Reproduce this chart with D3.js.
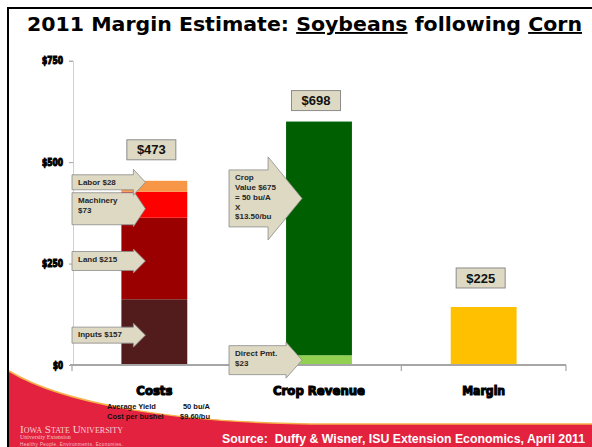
<!DOCTYPE html>
<html>
<head>
<meta charset="utf-8">
<style>
body { margin: 0; background: #fff; }
svg { display: block; }
.callout text { font: bold 8px "Liberation Sans", Arial, sans-serif; fill: #262626; }
.total text { font: bold 13px "Liberation Sans", Arial, sans-serif; fill: #111; }
</style>
</head>
<body>
<svg width="592" height="447"></svg>
<script src="https://d3js.org/d3.v7.min.js"></script>
<script>
// values (in axis units), labels as printed on the slide
var categories = ["Costs", "Crop Revenue", "Margin"];
var costParts = ["Inputs", "Land", "Machinery", "Labor"];
var costValues = [162, 201, 64, 27];
var revenueParts = ["Direct Pmt.", "Crop Value"];
var revenueValues = [24, 576];
var marginValues = [143];
var totalLabels = ["$473", "$698", "$225"];
var yTicks = [0, 250, 500, 750];
var costCallouts = [["Inputs $157"], ["Land $215"], ["Machinery", "$73"], ["Labor $28"]];
var revenueCallouts = [["Direct Pmt.", "$23"], ["Crop", "Value $675", "= 50 bu/A", "X", "$13.50/bu"]];
var yieldRows = [["Average Yield", "50 bu/A"], ["Cost per bushel", "$9.60/bu"]];

var costColors = ["#521c1c", "#9b0000", "#ff0000", "#f79646"];
var revenueColors = ["#92d050", "#005f00"];
var marginColor = "#ffc000";

var svg = d3.select("svg");

// bottom red swoosh
svg.append("path")
    .attr("d", "M9,371 C60,402 170,424 330,424 L592,424 L592,447 L9,447 Z")
    .attr("fill", "#e3223f");
svg.append("path")
    .attr("d", "M9,371 C60,402 170,424 330,424 L592,424")
    .attr("fill", "none")
    .attr("stroke", "#f6b14a")
    .attr("stroke-width", 1.5);

// frame
svg.append("rect")
    .attr("x", 8).attr("y", 8)
    .attr("width", 620).attr("height", 480)
    .attr("fill", "none")
    .attr("stroke", "#000")
    .attr("stroke-width", 2);

// title
var title = svg.append("text")
    .attr("x", 27).attr("y", 31)
    .attr("font-family", "DejaVu Sans, sans-serif")
    .attr("font-weight", "bold")
    .attr("font-size", 19)
    .attr("textLength", 555)
    .attr("lengthAdjust", "spacingAndGlyphs");
title.append("tspan").text("2011 Margin Estimate: ");
title.append("tspan").style("text-decoration", "underline").text("Soybeans");
title.append("tspan").text(" following ");
title.append("tspan").style("text-decoration", "underline").text("Corn");

var x = d3.scaleBand()
    .domain(categories)
    .range([72, 566])
    .paddingInner(0.6)
    .paddingOuter(0.3);

var y = d3.scaleLinear()
    .domain([0, 750])
    .range([365, 60.7]);

// y axis
var yAxis = svg.append("g")
    .attr("transform", "translate(73,0)")
    .call(d3.axisLeft(y).tickValues(yTicks).tickSize(4).tickFormat(function(d) { return "$" + d; }));
yAxis.select(".domain").attr("stroke", "#d0d0d0");
yAxis.selectAll(".tick line").attr("stroke", "#a0a0a0");
yAxis.selectAll(".tick text")
    .attr("x", -10)
    .attr("font-family", "DejaVu Sans, sans-serif")
    .attr("font-weight", "bold")
    .attr("font-size", 10)
    .attr("fill", "#000")
    .attr("stroke", "#000")
    .attr("stroke-width", 1.2)
    .attr("textLength", function(d) { return d == 0 ? 10 : 21; })
    .attr("lengthAdjust", "spacingAndGlyphs");

// build segments
function stackUp(cat, keys, vals, colors) {
  var sums = d3.cumsum(vals);
  return keys.map(function(k, i) {
    return {cat: cat, key: k, y0: sums[i] - vals[i], y1: sums[i], color: colors[i], idx: i};
  });
}
var costSeg = stackUp("Costs", costParts, costValues, costColors);
var revSeg = stackUp("Crop Revenue", revenueParts, revenueValues, revenueColors);
var marSeg = stackUp("Margin", ["Margin"], marginValues, [marginColor]);
var segments = costSeg.concat(revSeg, marSeg);

svg.append("g").selectAll("rect")
  .data(segments)
  .enter().append("rect")
    .attr("x", function(d) { return x(d.cat); })
    .attr("y", function(d) { return y(d.y1); })
    .attr("width", x.bandwidth())
    .attr("height", function(d) { return y(d.y0) - y(d.y1); })
    .attr("fill", function(d) { return d.color; });

// x axis
var xAxis = svg.append("g")
    .attr("transform", "translate(0,365)");
xAxis.append("line")
    .attr("x1", 70).attr("x2", 566)
    .attr("stroke", "#a6a6a6").attr("stroke-width", 2);
var bounds = [72].concat(categories.map(function(c) { return x(c) + x.bandwidth() + x.step() * 0.3; }));
xAxis.selectAll(".tk")
  .data(bounds)
  .enter().append("line")
    .attr("x1", function(d) { return d; }).attr("x2", function(d) { return d; })
    .attr("y1", 0).attr("y2", 6)
    .attr("stroke", "#a6a6a6").attr("stroke-width", 1.2);

var catWidths = [36, 92, 43];
xAxis.selectAll(".cat")
  .data(categories)
  .enter().append("text")
    .attr("x", function(d, i) { return x(d) + x.bandwidth() / 2 - catWidths[i] / 2; })
    .attr("y", 30)
    .attr("font-family", "DejaVu Sans, sans-serif")
    .attr("font-weight", "bold")
    .attr("font-size", 13)
    .attr("stroke", "#000")
    .attr("stroke-width", 1.2)
    .attr("textLength", function(d, i) { return catWidths[i]; })
    .attr("lengthAdjust", "spacingAndGlyphs")
    .text(function(d) { return d; });

// total boxes
var tops = [d3.sum(costValues), d3.sum(revenueValues), d3.sum(marginValues)];
var gaps = [21, 11, 19];
var totals = svg.append("g").attr("class", "total").selectAll("g")
  .data(categories)
  .enter().append("g")
    .attr("transform", function(d, i) {
      return "translate(" + (x(d) + x.bandwidth() / 2 - 3) + "," + (y(tops[i]) - gaps[i] - 10) + ")";
    });
totals.append("rect")
    .attr("x", -24.5).attr("y", -10)
    .attr("width", 49).attr("height", 20)
    .attr("fill", "#ddd9c3")
    .attr("stroke", "#8c8c8c");
totals.append("text")
    .attr("text-anchor", "middle")
    .attr("dy", "0.36em")
    .text(function(d, i) { return totalLabels[i]; });

// arrow callouts
function callout(o) {
  var g = svg.append("g").attr("class", "callout");
  var bt = o.ty - o.h / 2, bb = o.ty + o.h / 2;
  var pts = [[o.left, bt], [o.br, bt], [o.br, o.ty - o.hh], [o.tx, o.ty],
             [o.br, o.ty + o.hh], [o.br, bb], [o.left, bb]];
  g.append("path")
      .attr("d", d3.line()(pts) + "Z")
      .attr("fill", "#ddd9c3")
      .attr("stroke", "#8c8c8c")
      .attr("stroke-width", 0.8);
  g.selectAll("text")
    .data(o.lines)
    .enter().append("text")
      .attr("x", o.left + 6)
      .attr("y", function(d, i) { return bt + 7.5 + i * 9.8; })
      .attr("dy", "0.35em")
      .text(function(d) { return d; });
}

var costGeom = [
  {h: 16, hh: 12, dy: 3},
  {h: 19, hh: 12, dy: 2.5},
  {h: 32, hh: 18, dy: 4},
  {h: 15, hh: 13, dy: -4}
];
costSeg.forEach(function(s, i) {
  var tx = x(s.cat) + 24;
  callout({
    left: 72, br: tx - 12, tx: tx,
    ty: (y(s.y0) + y(s.y1)) / 2 + costGeom[i].dy,
    h: costGeom[i].h, hh: costGeom[i].hh,
    lines: costCallouts[i]
  });
});

var revGeom = [
  {h: 29, hh: 18, len: 16, dy: 0},
  {h: 57, hh: 41.5, len: 34, dy: -40}
];
revSeg.forEach(function(s, i) {
  var tx = x(s.cat) + 16;
  callout({
    left: 229, br: tx - revGeom[i].len, tx: tx,
    ty: (y(s.y0) + y(s.y1)) / 2 + revGeom[i].dy,
    h: revGeom[i].h, hh: revGeom[i].hh,
    lines: revenueCallouts[i]
  });
});

// yield note
var note = svg.append("g")
    .attr("font-family", "Liberation Sans, Arial, sans-serif")
    .attr("font-weight", "bold")
    .attr("font-size", 7.5)
    .attr("fill", "#111");
yieldRows.forEach(function(r, i) {
  note.append("text").attr("x", 107).attr("y", 409 + i * 10).text(r[0]);
  note.append("text").attr("x", 210).attr("y", 409 + i * 10).attr("text-anchor", "end").text(r[1]);
});

// footer
svg.append("text")
    .attr("x", 20).attr("y", 433)
    .attr("font-family", "Liberation Serif, serif")
    .attr("font-size", 11)
    .style("font-variant", "small-caps")
    .attr("fill", "#f7d0d6")
    .attr("textLength", 103)
    .attr("lengthAdjust", "spacingAndGlyphs")
    .text("Iowa State University");
svg.append("text")
    .attr("x", 20).attr("y", 439)
    .attr("font-family", "Liberation Serif, serif")
    .attr("font-size", 6)
    .attr("fill", "#f3c2ca")
    .text("University Extension");
svg.append("text")
    .attr("x", 20).attr("y", 446)
    .attr("font-family", "Liberation Sans, sans-serif")
    .attr("font-size", 4.5)
    .attr("fill", "#f3c2ca")
    .attr("textLength", 103)
    .text("Healthy People. Environments. Economies.");

svg.append("text")
    .attr("x", 585).attr("y", 443)
    .attr("text-anchor", "end")
    .attr("font-family", "Liberation Sans, Arial, sans-serif")
    .attr("font-weight", "bold")
    .attr("font-size", 12.3)
    .attr("fill", "#fff")
    .attr("xml:space", "preserve")
    .text("Source:  Duffy & Wisner, ISU Extension Economics, April 2011");
</script>
</body>
</html>
